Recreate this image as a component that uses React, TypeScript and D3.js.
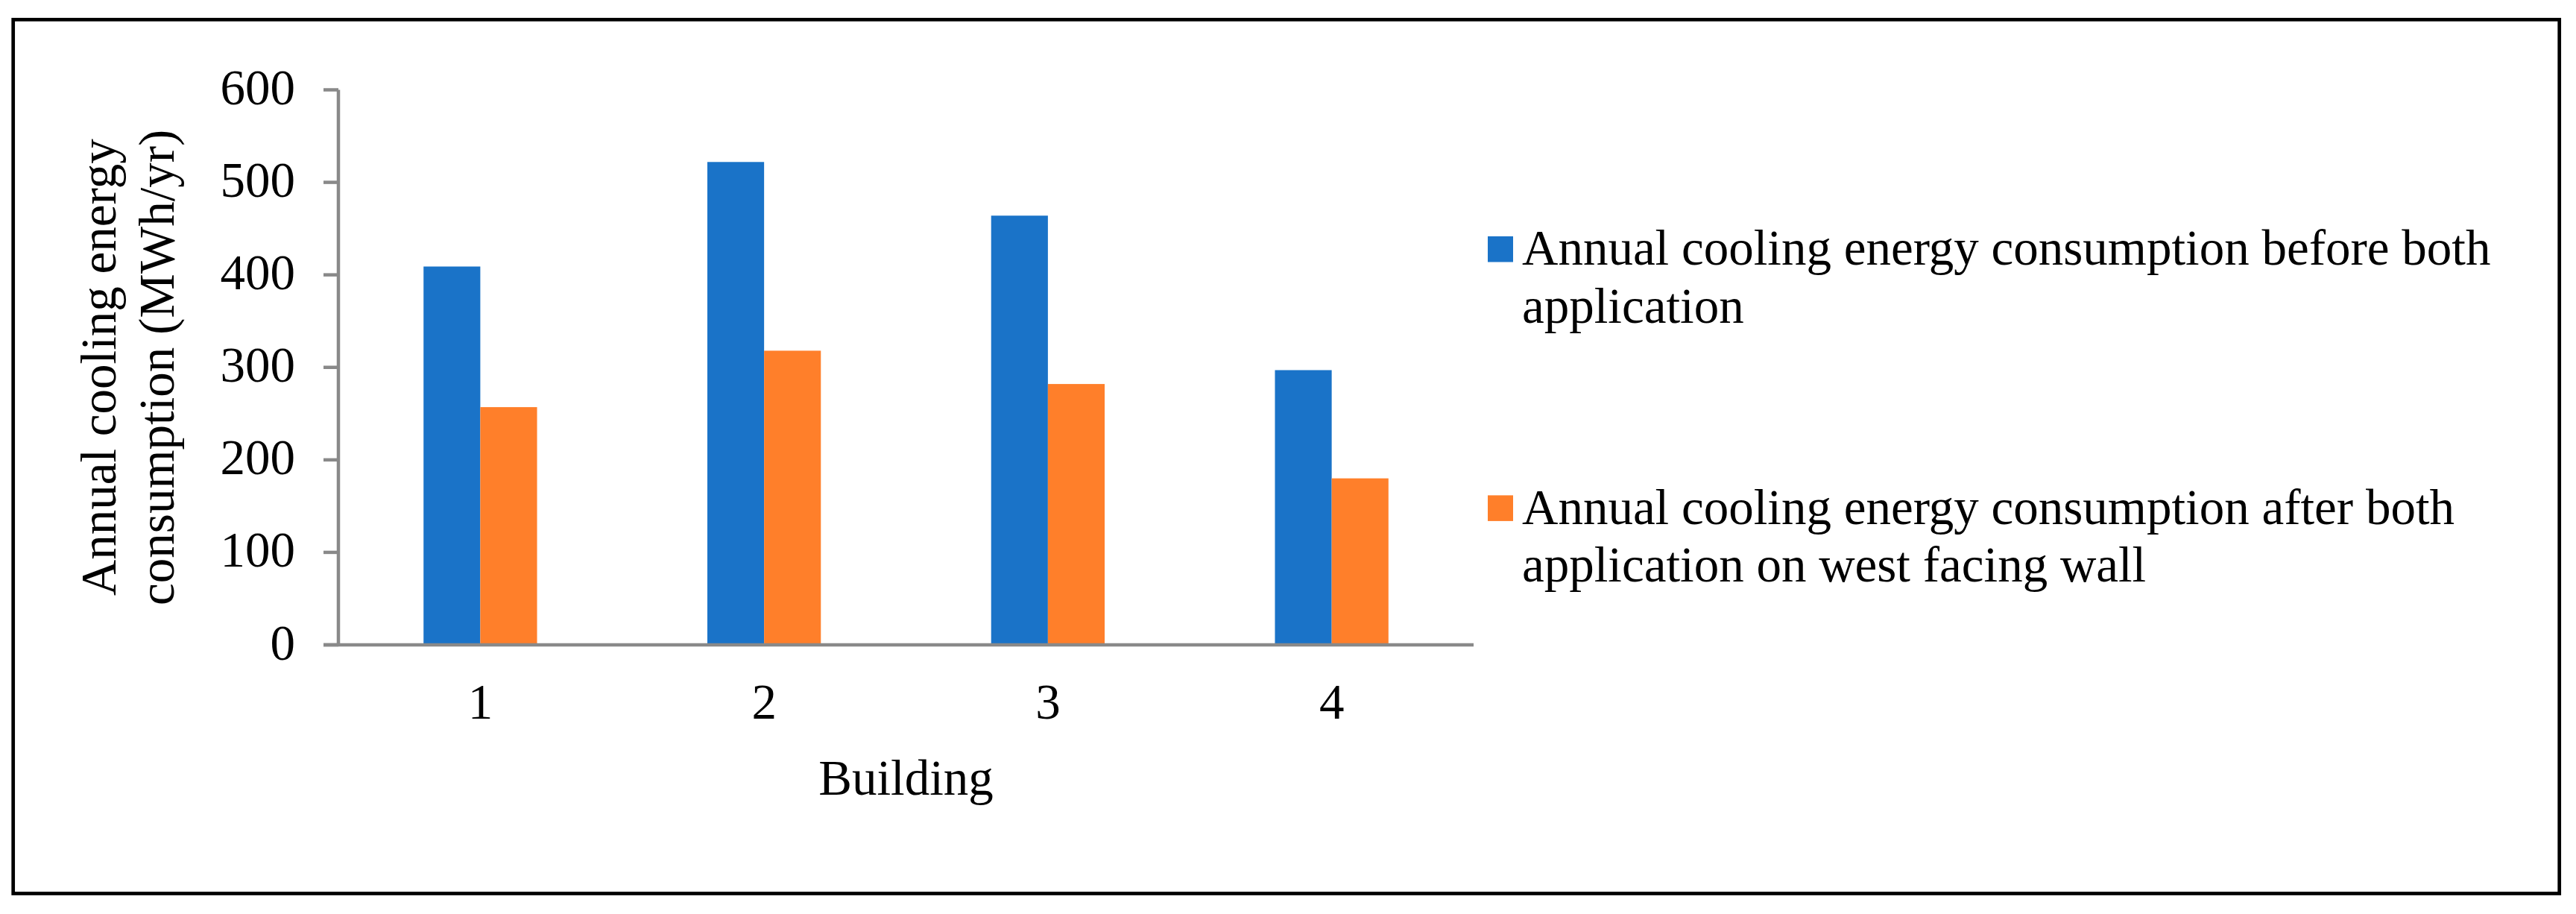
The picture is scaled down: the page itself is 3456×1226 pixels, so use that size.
import * as d3 from "d3";

const W = 3456;
const H = 1226;
const M = { top: 120.5, right: 1479, bottom: 361, left: 454 };

const buildings = ["1", "2", "3", "4"];
const beforeValues = [409, 522, 464, 297];
const afterValues = [257, 318, 282, 180];
const yTickValues = [0, 100, 200, 300, 400, 500, 600];

const seriesNames = ["before", "after"];
const seriesColors = ["#1A73C8", "#FF7F2A"];
const legendLines = [
  ["Annual cooling energy consumption before both", "application"],
  ["Annual cooling energy consumption after both", "application on west facing wall"],
];
const yTitleLines = ["Annual cooling energy", "consumption (MWh/yr)"];
const xTitle = "Building";

const FONT = "'Liberation Serif', 'Times New Roman', serif";
const FS = 67;
const AXIS = "#898989";

export default function App() {
  const x = d3
    .scaleBand<string>()
    .domain(buildings)
    .range([M.left, W - M.right])
    .paddingInner(0)
    .paddingOuter(0);
  const y = d3
    .scaleLinear()
    .domain([0, 600])
    .range([H - M.bottom, M.top]);

  // Excel-style clustered bars: gap width 300% -> each bar is 1/5 of the band
  const inner = d3
    .scaleBand<string>()
    .domain(seriesNames)
    .range([x.bandwidth() * 0.3, x.bandwidth() * 0.7]);

  const rows = buildings.map((b, i) => ({ b, vals: [beforeValues[i], afterValues[i]] }));

  const y0 = y(0);
  const plotCx = (M.left + W - M.right) / 2;
  const plotCy = (M.top + y0) / 2;

  return (
    <svg
      width={W}
      height={H}
      viewBox={`0 0 ${W} ${H}`}
      style={{ position: "fixed", left: 0, top: 0, background: "#fff" }}
      fontFamily={FONT}
    >
      <rect width={W} height={H} fill="#fff" />
      {/* outer frame */}
      <rect x={17.7} y={26.3} width={3416} height={1172.2} fill="none" stroke="#000" strokeWidth={4.7} />

      {/* bars */}
      {rows.map((r) => (
        <g key={r.b} transform={`translate(${x(r.b)},0)`}>
          {r.vals.map((v, j) => (
            <rect
              key={seriesNames[j]}
              x={inner(seriesNames[j])}
              y={y(v)}
              width={inner.bandwidth()}
              height={y0 - y(v)}
              fill={seriesColors[j]}
            />
          ))}
        </g>
      ))}

      {/* y axis */}
      <line x1={M.left} x2={M.left} y1={M.top} y2={y0} stroke={AXIS} strokeWidth={4.5} />
      {yTickValues.map((t) => (
        <g key={t}>
          <line x1={M.left - 20} x2={M.left} y1={y(t)} y2={y(t)} stroke={AXIS} strokeWidth={4.5} />
          <text x={396} y={y(t) + 19.5} textAnchor="end" fontSize={FS} fill="#000">
            {t}
          </text>
        </g>
      ))}

      {/* x axis */}
      <line x1={M.left - 20} x2={W - M.right} y1={y0} y2={y0} stroke={AXIS} strokeWidth={4.5} />
      {buildings.map((b) => (
        <text key={b} x={(x(b) ?? 0) + x.bandwidth() / 2} y={964} textAnchor="middle" fontSize={FS} fill="#000">
          {b}
        </text>
      ))}

      {/* axis titles */}
      <text x={plotCx} y={1066} textAnchor="middle" fontSize={FS} fill="#000">
        {xTitle}
      </text>
      {yTitleLines.map((line, i) => (
        <text
          key={line}
          transform={`translate(${155 + i * 78},${plotCy}) rotate(-90)`}
          textAnchor="middle"
          fontSize={FS}
          fill="#000"
        >
          {line}
        </text>
      ))}

      {/* legend */}
      {legendLines.map((lines, i) => {
        const base = 355.3 + i * 347.4;
        return (
          <g key={i}>
            <rect x={1996} y={base - 38.3} width={34} height={34.5} fill={seriesColors[i]} />
            {lines.map((ln, k) => (
              <text key={k} x={2042} y={base + k * 77.3} fontSize={FS} fill="#000">
                {ln}
              </text>
            ))}
          </g>
        );
      })}
    </svg>
  );
}
